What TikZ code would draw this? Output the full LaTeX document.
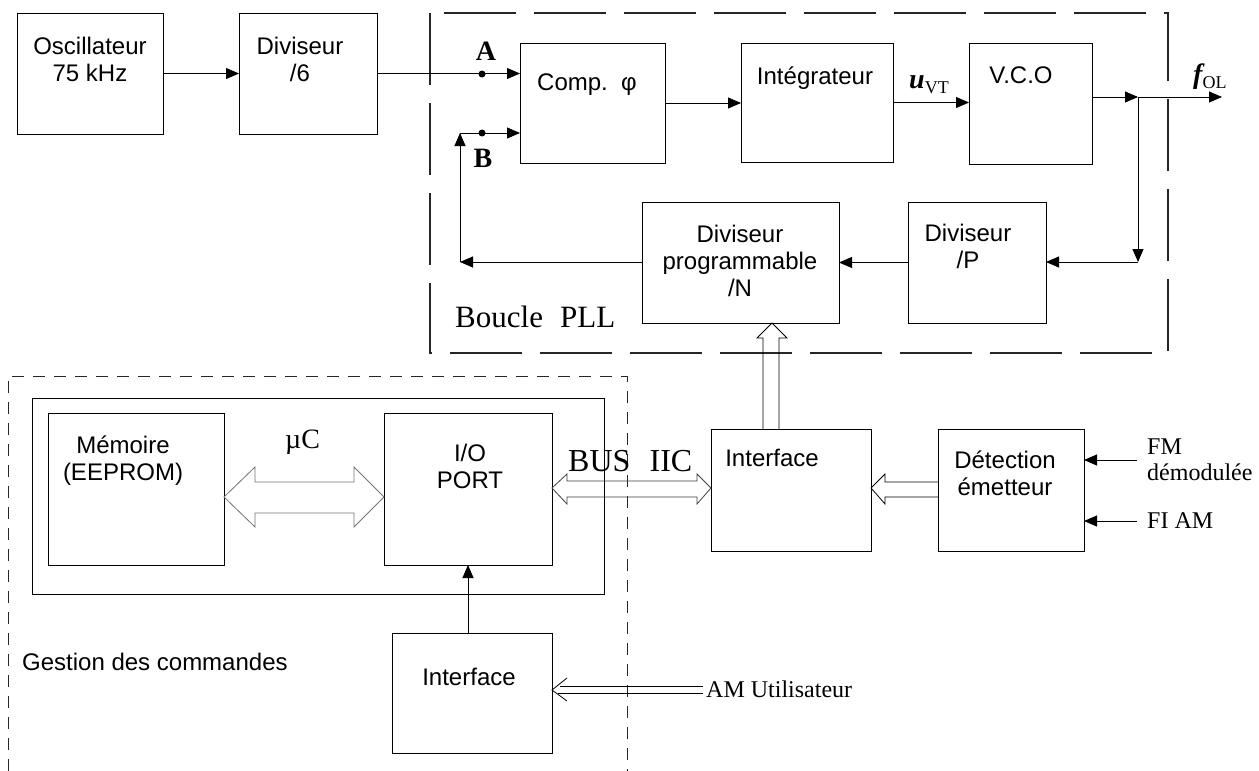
\documentclass[tikz,border=0pt]{standalone}
\usepackage{fontspec}
\setmainfont{Liberation Serif}
\newfontfamily\sansf{Liberation Sans}
\usetikzlibrary{arrows.meta,calc}
\begin{document}
\begin{tikzpicture}[x=1pt,y=-1pt,
  blk/.style={draw, line width=1pt, rectangle, inner sep=0pt, outer sep=0pt},
  sl/.style={font=\sansf\fontsize{24}{27}\selectfont, align=center, inner sep=0pt},
  sr/.style={font=\fontsize{24}{28}\selectfont, inner sep=0pt},
  arr/.style={line width=0.9pt, -{Triangle[length=13pt,width=11pt]}},
  hollow/.style={line width=0.8pt, line join=miter},
  plldash/.style={line width=1.1pt, black!85, dash pattern=on 72pt off 18pt},
  gdash/.style={line width=0.9pt, black!85, dash pattern=on 12pt off 9pt}]
\useasboundingbox (0,0) rectangle (1259,771);

% ---- boxes ----
\node[blk, minimum width=146pt, minimum height=121pt] (osc)   at (90,73.5) {};
\node[blk, minimum width=138pt, minimum height=121pt] (div6)  at (308,73.5) {};
\node[blk, minimum width=145pt, minimum height=120pt] (comp)  at (592.5,103) {};
\node[blk, minimum width=152pt, minimum height=119pt] (integ) at (817,102.5) {};
\node[blk, minimum width=123pt, minimum height=121pt] (vco)   at (1030.5,103.5) {};
\node[blk, minimum width=138pt, minimum height=121pt] (divp)  at (977,262.5) {};
\node[blk, minimum width=197pt, minimum height=121pt] (divn)  at (740.5,262.5) {};
\node[blk, minimum width=572pt, minimum height=196pt] (uc)    at (318,496) {};
\node[blk, minimum width=176pt, minimum height=152pt] (mem)   at (136,489) {};
\node[blk, minimum width=168pt, minimum height=152pt] (io)    at (468,489) {};
\node[blk, minimum width=160pt, minimum height=120pt] (ifb)   at (472,693) {};
\node[blk, minimum width=160pt, minimum height=122pt] (ifm)   at (791,490) {};
\node[blk, minimum width=146pt, minimum height=122pt] (det)   at (1011,490) {};

% ---- dashed frames ----
\draw[plldash] (430,13) rectangle (1168,353);
\draw[gdash] (8,771) -- (8,376) -- (627,376) -- (627,771);

% ---- box texts ----
\node[sl] at (90,59.5) {Oscillateur\\75 kHz};
\node[sl] at (300,59.5) {Diviseur\\/6};
\node[sl] at (587,85) {Comp.\ \ φ};
\node[sl] at (815,78.5) {Intégrateur};
\node[sl] at (1021,75) {V.C.O};
\node[sl] at (968,246.5) {Diviseur\\/P};
\node[sl] at (740,261) {Diviseur\\programmable\\/N};
\node[sl] at (123,461) {Mémoire\\(EEPROM)};
\node[sl] at (470,466.5) {I/O\\PORT};
\node[sl] at (469,677) {Interface};
\node[sl] at (772,457.5) {Interface};
\node[sl] at (1005,473.5) {Détection\\émetteur};
\node[sl, anchor=west] at (22,662) {Gestion des commandes};

% ---- serif labels ----
\node[inner sep=0pt, anchor=base west, font=\fontsize{31}{31}\selectfont] at (455,327) {Boucle\hspace{0.3em} PLL};
\node[inner sep=0pt, anchor=base west, font=\fontsize{32}{32}\selectfont] at (568,471) {BUS\hspace{0.35em} IIC};
\node[inner sep=0pt, anchor=base west, font=\fontsize{28}{28}\selectfont] at (285,448) {µC};
\node[inner sep=0pt, anchor=base, font=\fontsize{28}{28}\selectfont\bfseries] at (486,60) {A};
\node[inner sep=0pt, anchor=base, font=\fontsize{28}{28}\selectfont\bfseries] at (483,167) {B};
\node[inner sep=0pt, anchor=base west] at (909,88) {{\fontsize{28}{28}\selectfont\bfseries\itshape u}{\fontsize{18}{18}\selectfont\raisebox{-5pt}{VT}}};
\node[inner sep=0pt, anchor=base west] at (1193,83) {{\fontsize{28}{28}\selectfont\bfseries\itshape f}{\fontsize{18}{18}\selectfont\raisebox{-5pt}{OL}}};
\node[sr, anchor=base west] at (1147,454) {FM};
\node[sr, anchor=base west] at (1147,480) {démodulée};
\node[sr, anchor=base west] at (1147,528) {FI AM};
\node[sr, anchor=base west] at (706,697) {AM Utilisateur};

% ---- connectors ----
\coordinate (A) at (482,74);
\coordinate (Bc) at (460,133);
\coordinate (Bd) at (482,133);
\coordinate (FB) at (460,262);
\coordinate (J) at (1138,97);
\coordinate (K) at (1138,262);
\coordinate (out) at (1222,97);
\coordinate (fm) at (1137,460);
\coordinate (fi) at (1137,521);

\draw[arr] (osc.east) -- (div6.west);
\draw[arr] (div6.east) -- (comp.west |- div6.east);
\fill (A) circle (3.5pt);
\draw[arr] (comp.east) -- (integ.west |- comp.east);
\draw[arr] (integ.east) -- (vco.west |- integ.east);
\draw[arr] (vco.east |- J) -- (J);
\draw[arr] (J) -- (out);
\draw[arr] (J) -- (K);
\draw[arr] (K) -- (divp.east |- K);
\draw[arr] (divp.west) -- (divn.east);
\draw[arr] (divn.west |- FB) -- (FB);
\draw[arr] (FB) -- (Bc);
\draw[arr] (Bc) -- (comp.west |- Bc);
\fill (Bd) circle (3.5pt);
\draw[arr] (ifb.north -| io.south) -- (io.south);
\draw[arr] (fm) -- (det.east |- fm);
\draw[arr] (fi) -- (det.east |- fi);

% ---- hollow (bus) arrows ----
\draw[hollow, black!55] (mem.east |- 0,497) -- (255,467) -- (255,482) -- (354,482) -- (354,467)
   -- (io.west |- 0,497) -- (354,527) -- (354,513) -- (255,513) -- (255,527) -- cycle;
\draw[hollow, black!75] (io.east |- 0,488) -- (567,474) -- (567,481) -- (697,481) -- (697,474)
   -- (ifm.west |- 0,488) -- (697,504) -- (697,497) -- (567,497) -- (567,504) -- cycle;
\draw[hollow] (det.west |- 0,482) -- (885,482) -- (885,474) -- (ifm.east |- 0,488)
   -- (885,504) -- (885,497) -- (det.west |- 0,497);
\draw[hollow] (ifm.north -| 763,0) -- (763,338) -- (757,338) -- (divn.south -| 772,0)
   -- (787,338) -- (779,338) -- (ifm.north -| 779,0);
\coordinate (am) at (703,690);
\draw[line width=0.8pt] (am |- 0,686) -- (560,686);
\draw[line width=0.8pt] (am |- 0,693) -- (558,693);
\draw[line width=0.8pt] (567,678) -- (ifb.east |- am) -- (567,701);
\end{tikzpicture}
\end{document}
